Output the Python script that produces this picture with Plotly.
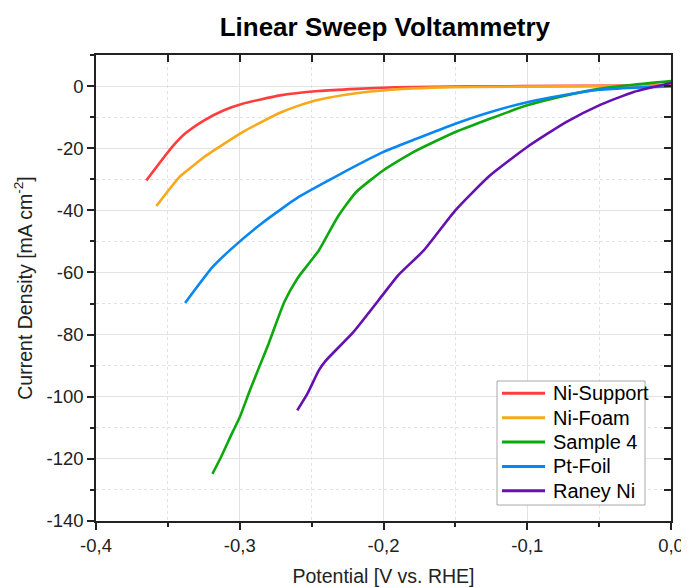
import plotly.graph_objects as go

# ---- data ----
ni_support_x = [-0.365, -0.347, -0.338, -0.325, -0.311, -0.298, -0.272, -0.245, -0.219, -0.192, -0.139, -0.07, 0.0]
ni_support_y = [-30.4, -19.6, -15.3, -11.1, -7.8, -5.7, -3.0, -1.6, -0.9, -0.4, -0.1, 0.05, 0.2]

ni_foam_x = [-0.358, -0.342, -0.335, -0.325, -0.311, -0.298, -0.285, -0.272, -0.259, -0.245, -0.219, -0.192, -0.166, -0.139, -0.07, 0.0]
ni_foam_y = [-38.6, -29.3, -26.6, -22.9, -18.6, -14.8, -11.6, -8.6, -6.3, -4.4, -2.3, -1.1, -0.5, -0.3, -0.1, 0.1]

sample4_x = [-0.319, -0.313, -0.305, -0.300, -0.293, -0.286, -0.280, -0.274, -0.269, -0.260, -0.245, -0.232, -0.219, -0.200, -0.179, -0.150, -0.126, -0.100, -0.073, -0.050, -0.025, 0.0]
sample4_y = [-124.8, -119.4, -111.4, -106.6, -98.0, -89.9, -83.0, -75.5, -69.5, -62.0, -52.9, -42.2, -34.1, -27.1, -21.2, -14.8, -10.5, -6.2, -3.0, -0.9, 0.5, 1.6]

pt_foil_x = [-0.338, -0.319, -0.307, -0.285, -0.259, -0.232, -0.200, -0.179, -0.150, -0.126, -0.100, -0.073, -0.050, -0.025, 0.0]
pt_foil_y = [-69.8, -58.3, -52.9, -44.3, -35.7, -28.8, -21.2, -17.3, -12.1, -8.4, -5.2, -2.8, -1.2, -0.5, -0.1]

raney_x = [-0.260, -0.253, -0.245, -0.240, -0.221, -0.200, -0.190, -0.172, -0.150, -0.126, -0.100, -0.073, -0.050, -0.026, 0.0]
raney_y = [-104.4, -99.1, -91.5, -88.3, -79.2, -66.9, -61.0, -52.9, -40.0, -28.8, -19.6, -11.6, -6.2, -1.9, 1.0]

series_names = ["Ni-Support", "Ni-Foam", "Sample 4", "Pt-Foil", "Raney Ni"]
series_x = [ni_support_x, ni_foam_x, sample4_x, pt_foil_x, raney_x]
series_y = [ni_support_y, ni_foam_y, sample4_y, pt_foil_y, raney_y]
colors = ["#FF3D3D", "#F7A81B", "#0DA80D", "#0A86F0", "#6510B0"]

x_tickvals = [-0.4, -0.3, -0.2, -0.1, 0.0]
x_ticktext = ["-0,4", "-0,3", "-0,2", "-0,1", "0,0"]
y_tickvals = [0, -20, -40, -60, -80, -100, -120, -140]
y_ticktext = ["0", "-20", "-40", "-60", "-80", "-100", "-120", "-140"]

fig = go.Figure()
for name, xs, ys, c in zip(series_names, series_x, series_y, colors):
    fig.add_trace(go.Scatter(x=xs, y=ys, mode="lines", name=name, showlegend=False,
                             line=dict(color=c, width=2.6, shape="spline", smoothing=0.5)))

# invisible trace for mirror axes
fig.add_trace(go.Scatter(x=[-0.4], y=[-140], xaxis="x2", yaxis="y2", mode="markers",
                         marker=dict(opacity=0), showlegend=False, hoverinfo="skip"))

font = "Liberation Sans, Arial, sans-serif"
XR = [-0.4, 0.0]
YR = [-140, 10]

# ---- boxed legend (paper coordinates) ----
leg_x0, leg_x1, leg_y0, leg_y1 = 0.6974, 0.9548, 0.0343, 0.3004
row_top, row_step = 0.274, 0.0523
shapes = [dict(type="rect", xref="paper", yref="paper", x0=leg_x0, x1=leg_x1, y0=leg_y0, y1=leg_y1,
               fillcolor="white", line=dict(color="#A8A8A8", width=1), layer="above")]
annotations = []
for i, (name, c) in enumerate(zip(series_names, colors)):
    yy = row_top - i * row_step
    shapes.append(dict(type="line", xref="paper", yref="paper", x0=0.7061, x1=0.7809, y0=yy, y1=yy,
                       line=dict(color=c, width=3), layer="above"))
    annotations.append(dict(xref="paper", yref="paper", x=0.7905, y=yy, xanchor="left", yanchor="middle",
                            text=name, showarrow=False, font=dict(size=20, color="black", family=font)))

fig.update_layout(
    width=689, height=587,
    margin=dict(l=88, r=26, t=47, b=74),
    paper_bgcolor="white", plot_bgcolor="white",
    font=dict(family=font, size=18, color="#222"),
    title=dict(text="<b>Linear Sweep Voltammetry</b>", x=0.547, xanchor="center",
               y=0.9676, yanchor="middle", font=dict(size=26, color="black", family=font)),
    xaxis=dict(range=XR, tickvals=x_tickvals, ticktext=x_ticktext, automargin=False,
               showline=True, linecolor="#222", linewidth=1.5,
               ticks="outside", ticklen=7, tickwidth=1.5, tickcolor="#222",
               showgrid=True, gridcolor="#E3E3E3", gridwidth=1, zeroline=False,
               minor=dict(dtick=0.05, ticks="outside", ticklen=4, tickcolor="#222",
                          showgrid=True, gridcolor="#E3E3E3", griddash="dot"),
               title=dict(text="Potential [V vs. RHE]", font=dict(size=19.5), standoff=14),
               tickfont=dict(size=18.5)),
    yaxis=dict(range=YR, tickvals=y_tickvals, ticktext=y_ticktext, automargin=False,
               showline=True, linecolor="#222", linewidth=1.5,
               ticks="outside", ticklen=7, tickwidth=1.5, tickcolor="#222",
               showgrid=True, gridcolor="#E3E3E3", gridwidth=1, zeroline=False,
               minor=dict(dtick=10, ticks="outside", ticklen=4, tickcolor="#222",
                          showgrid=True, gridcolor="#E3E3E3", griddash="dot"),
               title=dict(text="Current Density [mA cm<sup>-2</sup>]", font=dict(size=19.5), standoff=9),
               tickfont=dict(size=18.5)),
    xaxis2=dict(range=XR, overlaying="x", side="top", showline=True, linecolor="#222",
                linewidth=1.5, ticks="inside", ticklen=7, tickwidth=1.5, tickcolor="#222",
                tickvals=[-0.35, -0.3, -0.25, -0.2, -0.15, -0.1, -0.05], automargin=False,
                showticklabels=False, showgrid=False, zeroline=False),
    yaxis2=dict(range=YR, overlaying="y", side="right", showline=True, linecolor="#222",
                linewidth=1.5, ticks="inside", ticklen=7, tickwidth=1.5, tickcolor="#222",
                dtick=10, tick0=0, showticklabels=False, showgrid=False, zeroline=False,
                automargin=False),
    shapes=shapes,
    annotations=annotations,
    showlegend=False,
)

fig.write_html("out.html")
